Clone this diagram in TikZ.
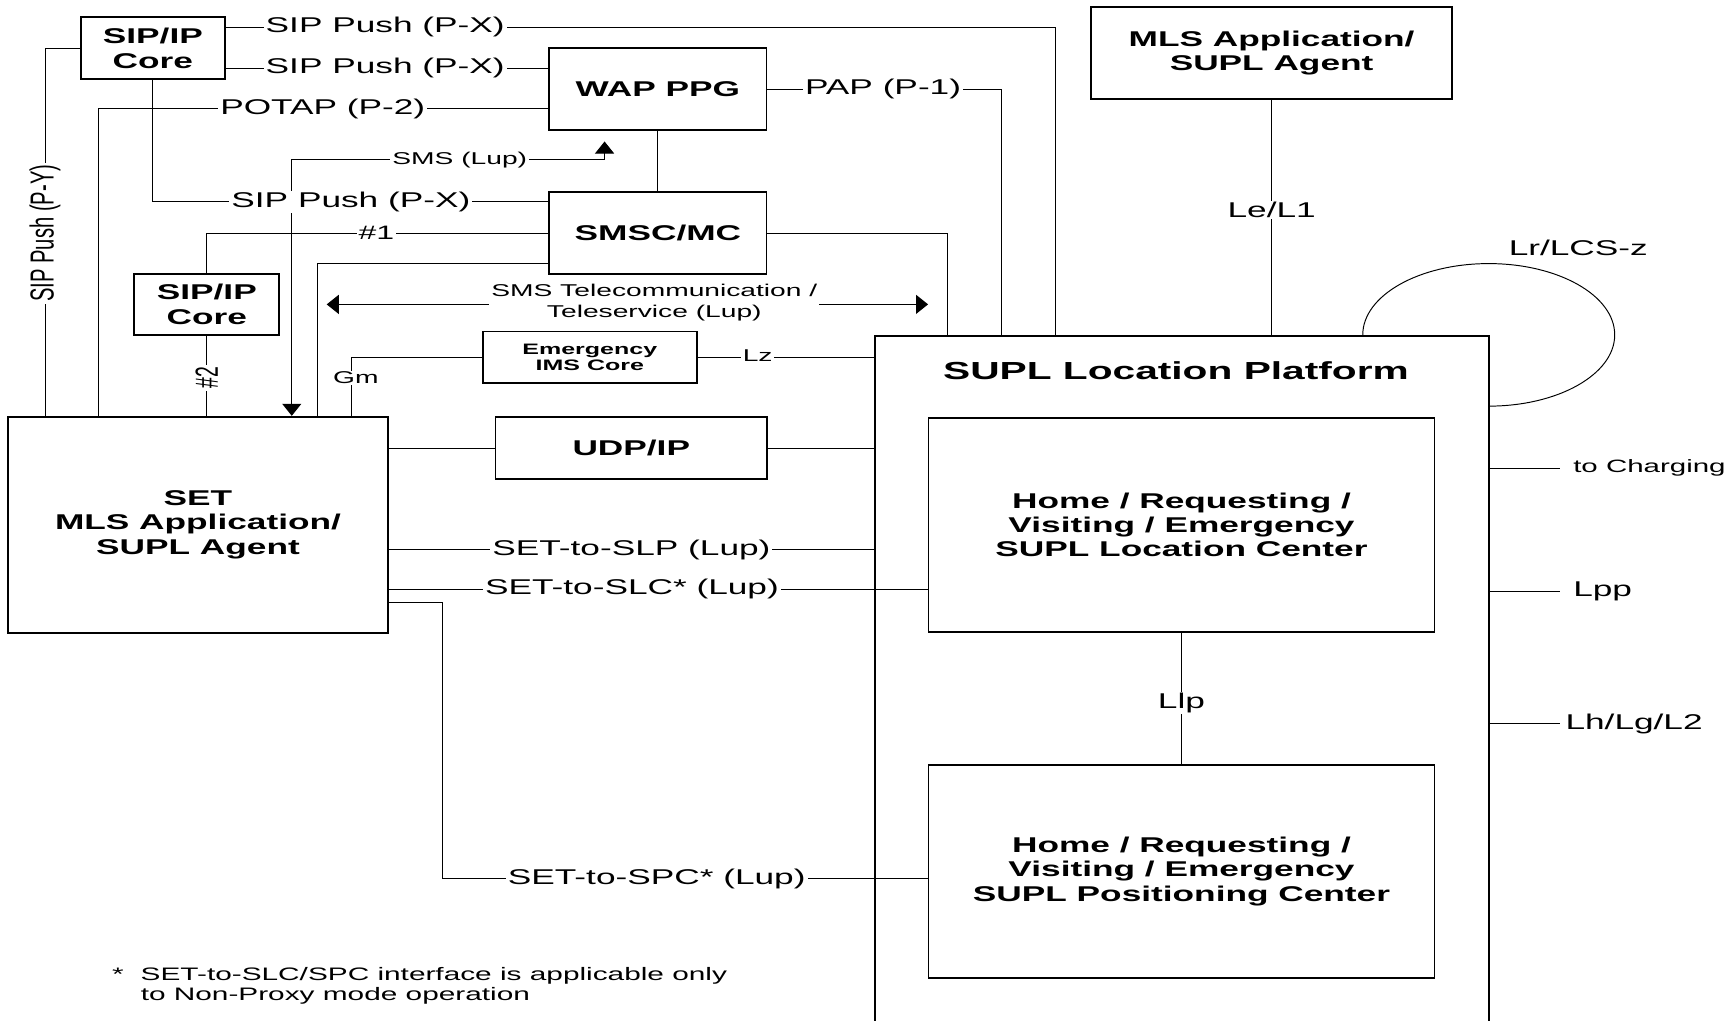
\documentclass[tikz,border=0pt]{standalone}
\usepackage{graphicx}
\usepackage{fontspec}
\setmainfont{Liberation Sans}[FakeStretch=1.65]
\newfontfamily\plainsans{Liberation Sans}
\usetikzlibrary{arrows.meta}

\begin{document}
\begin{tikzpicture}[x=0.02cm,y=-0.02cm,
		box/.style={draw,line width=0.9pt,inner sep=0pt,align=center,font=\bfseries\fontsize{11}{12.5}\selectfont},
		link/.style={line width=0.5pt},
		lbl/.style={fill=white,inner xsep=1pt,inner ysep=0.5pt,font=\fontsize{11}{13}\selectfont},
		smalltext/.style={font=\fontsize{8.8}{10.8}\selectfont},
		rotlbl/.style={fill=white,inner xsep=1pt,inner ysep=0.5pt,rotate=90,font=\plainsans\fontsize{10.4}{12}\selectfont},
		both/.style={{Triangle[length=6.2pt,width=9.8pt]}-{Triangle[length=6.2pt,width=9.8pt]}}]
	\path[use as bounding box] (0,0) rectangle (1568,923);
	\clip (0,0) rectangle (1568,923);

	\node[box,minimum width=2.612cm,minimum height=1.11cm,font=\bfseries\fontsize{11}{13}\selectfont] (core1) at (138.3,43.45) {SIP/IP\\Core};
	\node[box,minimum width=3.93cm,minimum height=1.478cm] (wap) at (595.25,80.65) {WAP PPG};
	\node[box,minimum width=3.93cm,minimum height=1.486cm] (smsc) at (595.25,210.85) {SMSC/MC};
	\node[box,minimum width=2.624cm,minimum height=1.104cm,font=\bfseries\fontsize{11}{13}\selectfont] (core2) at (187.1,275.5) {SIP/IP\\Core};
	\node[box,minimum width=3.874cm,minimum height=0.936cm,font=\bfseries\fontsize{7.8}{8}\selectfont] (emerg) at (533.65,323.4) {Emergency\\IMS Core};
	\node[box,minimum width=6.874cm,minimum height=3.91cm] (set) at (179.15,474.75) {SET\\MLS Application/\\SUPL Agent};
	\node[box,minimum width=4.914cm,minimum height=1.134cm] (udp) at (571.15,405.35) {UDP/IP};
	\node[box,minimum width=6.54cm,minimum height=1.678cm] (mls) at (1150.5,47.95) {MLS Application/\\SUPL Agent};
	\node[box,minimum width=11.112cm,minimum height=13.126cm] (slp) at (1069.2,631.85) {};
	\node[font=\bfseries\fontsize{12.7}{14}\selectfont] (slptitle) at (1064,335) {SUPL Location Platform};
	\node[box,minimum width=9.16cm,minimum height=3.88cm] (slc) at (1069,475) {Home / Requesting /\\Visiting / Emergency\\SUPL Location Center};
	\node[box,minimum width=9.16cm,minimum height=3.86cm] (spc) at (1069,788.5) {Home / Requesting /\\Visiting / Emergency\\SUPL Positioning Center};

	\coordinate (cPX) at (955,24.7);
	\coordinate (yPX2) at (0,61.8);
	\coordinate (cPOTAP) at (89.5,98.6);
	\coordinate (xPAP) at (906,0);
	\coordinate (xPY) at (40.8,0);
	\coordinate (yPX3) at (0,182.5);
	\coordinate (cSMS) at (264,144.5);
	\coordinate (cSMSup) at (547,128);
	\coordinate (xSMSCr) at (857,0);
	\coordinate (cSMSC2) at (287.3,238.3);
	\coordinate (cTeleL) at (295.6,275.4);
	\coordinate (cTeleR) at (839.7,275.4);
	\coordinate (xGm) at (318,0);
	\coordinate (ySLP) at (0,497.5);
	\coordinate (ySLC) at (0,533);
	\coordinate (cSPCa) at (400,545);
	\coordinate (cSPCb) at (400,795);
	\coordinate (xLoop) at (1233,0);

	\draw[link] (core1.east |- cPX) -| (slp.north -| cPX);
	\draw[link] (core1.east |- yPX2) -- (wap.west |- yPX2);
	\draw[link] (wap.west |- cPOTAP) -| (set.north -| cPOTAP);
	\draw[link] (wap.east) -| (slp.north -| xPAP);
	\draw[link] (core1.west) -| (set.north -| xPY);
	\draw[link] (core1.south) |- (smsc.west |- yPX3);
	\draw[link,both] (set.north -| cSMS) -- (cSMS) -| (cSMSup);
	\draw[link] (wap.south) -- (smsc.north);
	\draw[link] (smsc.east) -| (slp.north -| xSMSCr);
	\draw[link] (smsc.west) -| (core2.north);
	\draw[link] (core2.south) -- (set.north -| core2.south);
	\draw[link] (smsc.west |- cSMSC2) -| (set.north -| cSMSC2);
	\draw[link,both] (cTeleL) -- (cTeleR);
	\draw[link] (emerg.east) -- (slp.west |- emerg.east);
	\draw[link] (emerg.west) -| (set.north -| xGm);
	\draw[link] (set.east |- udp.west) -- (udp.west);
	\draw[link] (udp.east) -- (slp.west |- udp.east);
	\draw[link] (set.east |- ySLP) -- (slp.west |- ySLP);
	\draw[link] (set.east |- ySLC) -- (slc.west |- ySLC);
	\draw[link] (set.east |- cSPCa) -| (cSPCb) -- (spc.west |- cSPCb);
	\draw[link] (mls.south) -- (slp.north -| mls.south);
	\draw[link] (slc.south) -- (spc.north);
	\draw[link] (slp.north -| xLoop) arc[start angle=180,end angle=-90,x radius=2.28cm,y radius=1.29cm];

	\node[lbl] (lpx1) at (348.5,24.7) {SIP Push (P-X)};
	\node[lbl] (lpx2) at (348.5,61.8) {SIP Push (P-X)};
	\node[lbl] (lpotap) at (292,98.6) {POTAP (P-2)};
	\node[lbl] (lpap) at (799,80.8) {PAP (P-1)};
	\node[lbl] (lpx3) at (317.5,182.5) {SIP Push (P-X)};
	\node[lbl,smalltext] (lsms) at (416,144.5) {SMS (Lup)};
	\node[lbl,font=\fontsize{10}{12}\selectfont] (lh1) at (340.6,211) {\#1};
	\node[rotlbl,font=\plainsans\fontsize{10}{12}\selectfont] (lh2) at (187,342) {\scalebox{1}[1.65]{\#2}};
	\node[rotlbl] (lpy) at (40.8,211) {\scalebox{1}[1.65]{SIP Push (P-Y)}};
	\node[lbl,smalltext] (lgm) at (322,342) {Gm};
	\node[lbl,smalltext,align=center] (ltele) at (592,274) {SMS Telecommunication /\\Teleservice (Lup)};
	\node[lbl,smalltext] (llz) at (685.5,321.8) {Lz};
	\node[lbl] (lslp) at (571.3,497.5) {SET-to-SLP (Lup)};
	\node[lbl] (lslc) at (571.8,533) {SET-to-SLC* (Lup)};
	\node[lbl] (lspc) at (594.2,795) {SET-to-SPC* (Lup)};
	\node[lbl] (lle) at (1150.6,190) {Le/L1};
	\node[lbl] (lllp) at (1069,636) {Llp};
	\node[font=\fontsize{11}{13}\selectfont] (llr) at (1428,224) {Lr/LCS-z};

	\node[anchor=west,inner xsep=6.5pt,font=\fontsize{9.2}{11}\selectfont] (lchg) at (1411.7,423.6) {to Charging};
	\node[anchor=west,inner xsep=6.5pt,font=\fontsize{11}{13}\selectfont] (llpp) at (1411.7,534.8) {Lpp};
	\node[anchor=west,inner xsep=2.5pt,font=\fontsize{11}{13}\selectfont] (llh) at (1411.7,654.8) {Lh/Lg/L2};
	\draw[link] (slp.east |- lchg.west) -- (lchg.west);
	\draw[link] (slp.east |- llpp.west) -- (llpp.west);
	\draw[link] (slp.east |- llh.west) -- (llh.west);

	\node[anchor=west,align=left,inner sep=0pt,font=\fontsize{9.3}{10.2}\selectfont] (note) at (101,892) {\makebox[14.8pt][l]{*}SET-to-SLC/SPC interface is applicable only\\\hspace*{14.8pt}to Non-Proxy mode operation};
\end{tikzpicture}
\end{document}
